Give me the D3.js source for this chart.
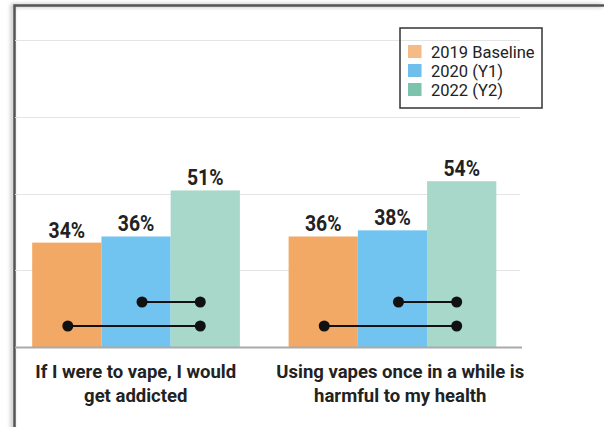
<!DOCTYPE html>
<html>
<head>
<meta charset="utf-8">
<script src="https://cdn.jsdelivr.net/npm/d3@7"></script>
<style>
  html, body { margin: 0; padding: 0; background: #fff; }
  svg { display: block; font-family: Roboto, "Noto Sans", sans-serif; }
</style>
</head>
<body>
<svg id="chart" width="604" height="427"></svg>
<script>
// ---- data ----
const categories = ["If I were to vape, I would get addicted", "Using vapes once in a while is harmful to my health"];
const categoryLines = [["If I were to vape, I would", "get addicted"], ["Using vapes once in a while is", "harmful to my health"]];
const series = ["2019 Baseline", "2020 (Y1)", "2022 (Y2)"];
const values2019 = [34, 36];
const values2020 = [36, 38];
const values2022 = [51, 54];
const yTicks = [0, 25, 50, 75, 100];
const comparisons = [["2020 (Y1)", "2022 (Y2)"], ["2019 Baseline", "2022 (Y2)"]];

// ---- styles ----
const barColors = ["#F3A966", "#71C4EF", "#A7D8CA"];
const legendColors = ["#F5BA85", "#70BEEC", "#7CC3AD"];
const dotNudge = [1, 6, -5];
const compLift = [45, 21];

const seriesValues = [values2019, values2020, values2022];
const rows = categories.map((c, i) => ({
  category: c,
  values: series.map((s, j) => ({ series: s, value: seriesValues[j][i], idx: j }))
}));

const svg = d3.select("#chart");

// frame with shadow
const defs = svg.append("defs");
const f = defs.append("filter").attr("id", "sh").attr("x", "-50%").attr("y", "-50%").attr("width", "200%").attr("height", "200%");
f.append("feDropShadow").attr("dx", -2).attr("dy", 0).attr("stdDeviation", 2).attr("flood-color", "#000").attr("flood-opacity", 0.35);
svg.append("path")
  .attr("d", "M604,5.5 L14.5,5.5 L14.5,430")
  .attr("fill", "none").attr("stroke", "#555").attr("stroke-width", 2.5)
  .attr("filter", "url(#sh)");

const y = d3.scaleLinear().domain([0, 100]).range([347, 40]);
const x0 = d3.scaleBand().domain(categories).range([15, 513.5]).paddingInner(0.19).paddingOuter(0.067);
const x1 = d3.scaleBand().domain(series).range([0, x0.bandwidth()]).padding(0);
const xLab = d3.scalePoint().domain(categories).range([15, 520]).padding(0.4545);

// gridlines
svg.append("g").selectAll("line").data(yTicks.filter(t => t > 0)).join("line")
  .attr("x1", 15).attr("x2", 520)
  .attr("y1", d => Math.round(y(d)) + 0.5).attr("y2", d => Math.round(y(d)) + 0.5)
  .attr("stroke", "#e4e4e4").attr("stroke-width", 1);

// bars
const g = svg.append("g").selectAll("g").data(rows).join("g")
  .attr("transform", d => `translate(${x0(d.category)},0)`);

g.selectAll("rect").data(d => d.values).join("rect")
  .attr("x", d => x1(d.series)).attr("width", x1.bandwidth())
  .attr("y", d => y(d.value)).attr("height", d => y(0) - y(d.value))
  .attr("fill", d => barColors[d.idx]);

g.selectAll("text.val").data(d => d.values).join("text")
  .attr("class", "val")
  .attr("transform", d => `translate(${x1(d.series) + x1.bandwidth() / 2},${y(d.value) - 5}) scale(0.9,1)`)
  .attr("text-anchor", "middle")
  .attr("font-size", 21.5).attr("font-weight", 700).attr("fill", "#222")
  .text(d => d.value + "%");

// comparison dumbbells
const dotX = s => x1(s) + x1.bandwidth() / 2 + dotNudge[series.indexOf(s)];
g.each(function () {
  const gg = d3.select(this);
  comparisons.forEach((c, k) => {
    const yy = y(0) - compLift[k];
    gg.append("line").attr("x1", dotX(c[0])).attr("x2", dotX(c[1]))
      .attr("y1", yy).attr("y2", yy).attr("stroke", "#111").attr("stroke-width", 2);
    c.forEach(s => gg.append("circle").attr("cx", dotX(s)).attr("cy", yy).attr("r", 5.5).attr("fill", "#111"));
  });
});

// baseline
svg.append("line").attr("x1", 15).attr("x2", 522).attr("y1", y(0) + 0.5).attr("y2", y(0) + 0.5)
  .attr("stroke", "#aaa").attr("stroke-width", 2);

// x axis labels
const ax = svg.append("g").attr("transform", `translate(0,${y(0)})`)
  .call(d3.axisBottom(xLab).tickSize(0).tickPadding(0));
ax.select(".domain").remove();
ax.selectAll(".tick text").each(function (d) {
  const t = d3.select(this);
  t.text(null).attr("y", 0).attr("dy", null)
    .attr("font-size", 18.5).attr("font-weight", 700).attr("fill", "#222")
    .attr("font-family", "Roboto, sans-serif");
  const lines = categoryLines[categories.indexOf(d)];
  lines.forEach((ln, i) => t.append("tspan").attr("x", 0).attr("y", 31 + i * 24).text(ln));
});

// legend
const lg = svg.append("g");
lg.append("rect").attr("x", 400).attr("y", 28).attr("width", 142).attr("height", 80)
  .attr("fill", "none").attr("stroke", "#333").attr("stroke-width", 1.5);
const li = lg.selectAll("g").data(series).join("g")
  .attr("transform", (d, i) => `translate(408,${58 + i * 19})`);
li.append("rect").attr("x", 0).attr("y", -13).attr("width", 13.5).attr("height", 13).attr("fill", (d, i) => legendColors[i]);
li.append("text").attr("x", 23).attr("y", 0).attr("font-size", 16.5).attr("fill", "#222").text(d => d);
</script>
</body>
</html>
